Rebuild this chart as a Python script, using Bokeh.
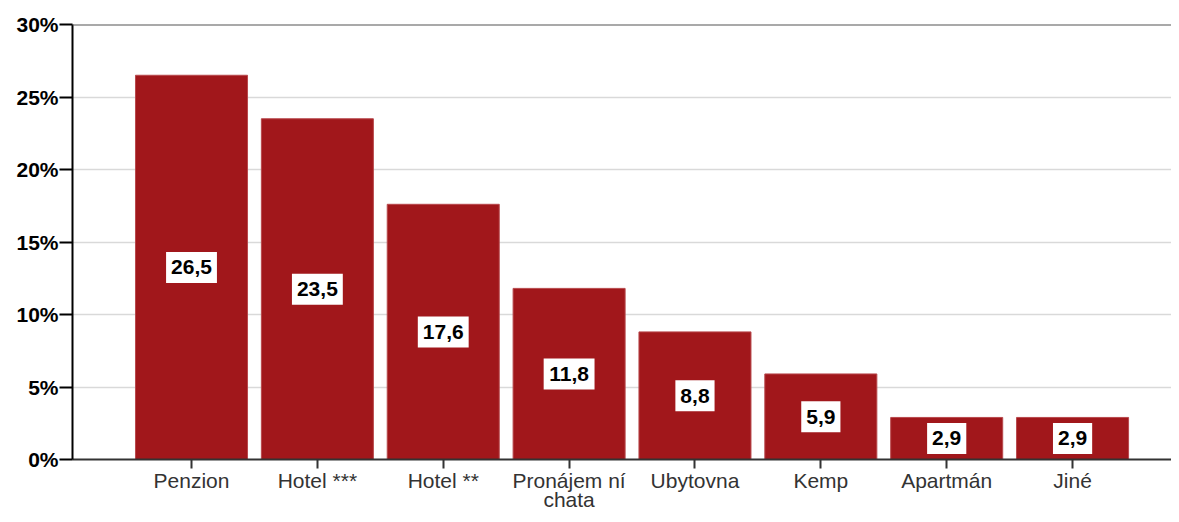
from bokeh.plotting import figure
from bokeh.models import ColumnDataSource, FixedTicker, PrintfTickFormatter, Span, Range1d
from bokeh.core.properties import value
from bokeh.embed import file_html
from bokeh.resources import INLINE

categories = ["Penzion", "Hotel ***", "Hotel **", "Pronájem ní\nchata", "Ubytovna", "Kemp", "Apartmán", "Jiné"]
values = [26.5, 23.5, 17.6, 11.8, 8.8, 5.9, 2.9, 2.9]
y_ticks = [0, 5, 10, 15, 20, 25, 30]

FONT_PX = 21
xs = list(range(len(categories)))
labels = [f"{v:.1f}".replace(".", ",") for v in values]
box_w = [sum(0.556 * FONT_PX if ch.isdigit() else 0.278 * FONT_PX for ch in t) + 10 for t in labels]
src = ColumnDataSource(dict(x=xs, top=values, mid=[v / 2 for v in values], label=labels, bw=box_w))

p = figure(width=1171, height=514, output_backend="svg", toolbar_location=None,
           x_range=Range1d(-0.9455, 7.786), y_range=Range1d(0, 30))
p.min_border_left = 72
p.min_border_right = 0
p.min_border_top = 24
p.min_border_bottom = 46
p.outline_line_color = None
p.background_fill_color = "white"
p.border_fill_color = "white"

p.xgrid.grid_line_color = None
p.ygrid.ticker = FixedTicker(ticks=y_ticks)
p.ygrid.grid_line_color = "#d9d9d9"
p.ygrid.grid_line_width = 1.5

p.vbar(x="x", top="top", width=0.89, source=src, fill_color="#A1171B", line_color="#B8484C", line_width=1)

p.add_layout(Span(location=30, dimension="width", line_color="#555555", line_width=2))

p.rect(x="x", y="mid", width="bw", height=31, width_units="screen", height_units="screen",
       source=src, fill_color="white", line_color=None)
p.text(x="x", y="mid", text="label", source=src, text_align="center", text_baseline="middle",
       text_font=value("Liberation Sans"), text_font_style="bold", text_font_size=f"{FONT_PX}px",
       text_color="black")

p.yaxis.ticker = FixedTicker(ticks=y_ticks)
p.yaxis.formatter = PrintfTickFormatter(format="%d%%")
p.yaxis.major_label_text_font = "Liberation Sans"
p.yaxis.major_label_text_font_style = "bold"
p.yaxis.major_label_text_font_size = "21px"
p.yaxis.major_label_text_color = "black"
p.yaxis.major_tick_out = 13
p.yaxis.major_tick_in = 0
p.yaxis.minor_tick_line_color = None
p.yaxis.major_tick_line_color = "black"
p.yaxis.major_tick_line_width = 2
p.yaxis.axis_line_color = "black"
p.yaxis.axis_line_width = 2
p.yaxis.major_label_standoff = 1

p.xaxis.ticker = FixedTicker(ticks=xs)
p.xaxis.major_label_overrides = {i: c for i, c in zip(xs, categories)}
p.xaxis.major_label_text_font = "Liberation Sans"
p.xaxis.major_label_text_font_size = "21px"
p.xaxis.major_label_text_line_height = 0.85
p.xaxis.major_label_text_color = "#333333"
p.xaxis.major_tick_out = 9
p.xaxis.major_tick_in = 0
p.xaxis.minor_tick_line_color = None
p.xaxis.major_tick_line_color = "#333333"
p.xaxis.major_tick_line_width = 2
p.xaxis.axis_line_color = "#333333"
p.xaxis.axis_line_width = 2
p.xaxis.major_label_standoff = 0

open("out.html", "w").write(file_html(p, INLINE))
